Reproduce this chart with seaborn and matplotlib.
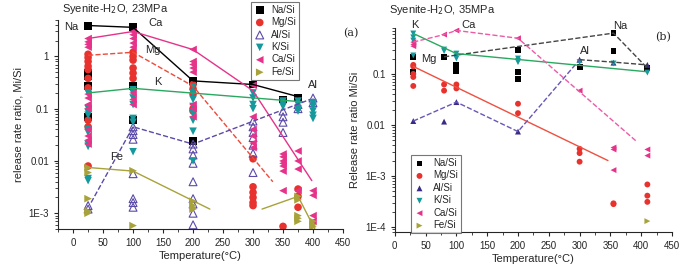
import matplotlib
matplotlib.use('Agg')
import matplotlib.pyplot as plt
import matplotlib.ticker as mticker
import numpy as np
import seaborn as sns
import pandas as pd

sns.set_style('ticks')
plt.rcParams['font.family'] = ['Liberation Sans', 'DejaVu Sans']

# ---------------- panel (a) : 23 MPa ----------------
na_a_t = [25, 25, 25, 25, 25, 100, 100, 100, 200, 200, 300, 350, 375]
na_a_v = [3.8, 0.49, 0.42, 0.27, 0.069, 3.7, 0.27, 0.06, 0.34, 0.024, 0.29, 0.15, 0.165]

mg_a_t = [25]*10 + [100]*6 + [200]*5 + [300]*6 + [350] + [375]*3
mg_a_v = [1.1, 0.95, 0.8, 0.65, 0.56, 0.38, 0.25, 0.06, 0.045, 0.008,
          1.2, 1.0, 0.85, 0.6, 0.48, 0.38,
          0.29, 0.24, 0.19, 0.1, 0.09,
          0.011, 0.0032, 0.0025, 0.002, 0.0016, 0.0014,
          0.00056,
          0.0029, 0.0021, 0.0013]

al_a_t = [25]*2 + [100]*8 + [200]*9 + [300]*7 + [350]*4 + [375]*2 + [400]*2
al_a_v = [0.0014, 0.0012,
          0.045, 0.038, 0.032, 0.026, 0.0057, 0.0019, 0.0016, 0.0013,
          0.021, 0.017, 0.013, 0.009, 0.004, 0.0019, 0.0015, 0.001, 0.0006,
          0.058, 0.045, 0.035, 0.028, 0.02, 0.014, 0.006,
          0.09, 0.07, 0.055, 0.035,
          0.12, 0.1,
          0.16, 0.13]

k_a_t = [25]*10 + [100]*7 + [200]*8 + [300]*4 + [350]*3 + [375]*4 + [400]*5
k_a_v = [0.2, 0.1, 0.085, 0.075, 0.04, 0.035, 0.021, 0.019, 0.0046, 0.0042,
         0.23, 0.2, 0.16, 0.12, 0.065, 0.055, 0.015,
         0.26, 0.2, 0.15, 0.11, 0.08, 0.06, 0.037, 0.01,
         0.2, 0.16, 0.12, 0.1,
         0.14, 0.12, 0.11,
         0.14, 0.12, 0.1, 0.09,
         0.13, 0.11, 0.09, 0.075, 0.065]

ca_a_t = [25]*12 + [100]*8 + [200]*8 + [300]*6 + [350]*7 + [375]*4 + [400]*4
ca_a_v = [2.2, 1.9, 1.7, 1.5, 0.19, 0.16, 0.12, 0.1, 0.04, 0.03, 0.025, 0.021,
          3.0, 2.6, 2.2, 1.8, 1.5, 0.2, 0.15, 0.12,
          1.36, 0.8, 0.7, 0.6, 0.5, 0.12, 0.1, 0.07,
          0.28, 0.07, 0.04, 0.03, 0.022, 0.018,
          0.0136, 0.012, 0.01, 0.009, 0.008, 0.0064, 0.0027,
          0.0155, 0.01, 0.007, 0.0027,
          0.0027, 0.0022, 0.0009, 0.0007]

fe_a_t = [25]*5 + [100]*2 + [200]*3 + [375]*5 + [400]*3
fe_a_v = [0.0075, 0.006, 0.0019, 0.0011, 0.001,
          0.0065, 0.00058,
          0.0017, 0.0014, 0.0012,
          0.0021, 0.0018, 0.0009, 0.0008, 0.0007,
          0.0007, 0.0006, 0.00055]

# trend lines (a)
na_a_line = ([25, 100, 200, 300, 375], [3.9, 3.6, 0.34, 0.29, 0.17])
ca_a_line = ([25, 100, 200, 300, 398], [2.2, 3.0, 1.35, 0.22, 0.0042])
mg_a_line = ([25, 100, 200, 333], [1.05, 1.2, 0.27, 0.004])
k_a_line = ([25, 100, 383], [0.2, 0.245, 0.135])
al_a_line = ([30, 100, 200, 395], [0.0016, 0.045, 0.021, 0.15])
fe_a_line1 = ([25, 100, 228], [0.0075, 0.0064, 0.0012])
fe_a_line2 = ([315, 375, 403], [0.0012, 0.0021, 0.0005])

# ---------------- panel (b) : 35 MPa ----------------
na_b_t = [30, 30, 80, 100, 100, 200, 200, 200, 300, 355, 355, 410]
na_b_v = [0.216, 0.11, 0.216, 0.15, 0.116, 0.29, 0.11, 0.079, 0.138, 0.63, 0.28, 0.13]

mg_b_t = [30, 30, 30, 30, 30, 80, 80, 100, 100, 200, 200, 300, 300, 300, 355, 355, 410, 410, 410]
mg_b_v = [0.15, 0.14, 0.1, 0.087, 0.058, 0.062, 0.047, 0.062, 0.052, 0.026, 0.017,
          0.0034, 0.0028, 0.0019, 0.00029, 0.00028, 0.00068, 0.00041, 0.00031]

al_b_t = [30, 80, 100, 200, 300, 355, 410]
al_b_v = [0.0119, 0.0116, 0.028, 0.0074, 0.19, 0.166, 0.15]

k_b_t = [30, 30, 30, 30, 80, 80, 100, 100, 100, 200, 200, 200, 300, 355, 410]
k_b_v = [0.62, 0.52, 0.45, 0.23, 0.30, 0.28, 0.25, 0.22, 0.2, 0.2, 0.18, 0.17, 0.17, 0.16, 0.106]

ca_b_t = [30, 30, 30, 80, 100, 200, 300, 355, 355, 355, 410, 410]
ca_b_v = [0.42, 0.38, 0.35, 0.59, 0.71, 0.5, 0.047, 0.0036, 0.0033, 0.0013, 0.0033, 0.0025]

fe_b_t = [410]
fe_b_v = [0.00013]

na_b_line = ([80, 355, 410], [0.216, 0.63, 0.13])
na_b_line2 = ([300, 355, 410], [0.19, 0.17, 0.15])
mg_b_line = ([30, 346], [0.14, 0.002])
al_b_line = ([30, 100, 200, 300], [0.0119, 0.028, 0.0074, 0.19])
k_b_line = ([30, 100, 410], [0.62, 0.25, 0.11])
ca_b_line = ([30, 80, 100, 200, 392], [0.42, 0.59, 0.71, 0.5, 0.0048])

names = ['Na/Si', 'Mg/Si', 'Al/Si', 'K/Si', 'Ca/Si', 'Fe/Si']
markers = ['s', 'o', '^', 'v', '<', '>']
colors = ['black', '#e8322e', '#5b4aa8', '#15999c', '#e6338a', '#a8a23a']

fig = plt.figure(figsize=(7, 2.65), dpi=100)
ax1 = fig.add_axes([0.083, 0.136, 0.407, 0.789])
ax2 = fig.add_axes([0.564, 0.125, 0.396, 0.77])


def line(ax, xy, color, ls):
    d = pd.DataFrame({'t': xy[0], 'v': xy[1]})
    sns.lineplot(data=d, x='t', y='v', ax=ax, color=color, lw=1, ls=ls,
                 sort=False, estimator=None)


# panel (a)
series_a = [(na_a_t, na_a_v), (mg_a_t, mg_a_v), (al_a_t, al_a_v),
            (k_a_t, k_a_v), (ca_a_t, ca_a_v), (fe_a_t, fe_a_v)]
line(ax1, na_a_line, 'black', '-')
line(ax1, ca_a_line, '#e6338a', '-')
line(ax1, mg_a_line, '#ee4a3a', '--')
line(ax1, k_a_line, '#2aa860', '-')
line(ax1, al_a_line, '#5b4aa8', '--')
line(ax1, fe_a_line1, '#a8a23a', '-')
line(ax1, fe_a_line2, '#a8a23a', '-')
for (t, v), n, m, c in zip(series_a, names, markers, colors):
    d = pd.DataFrame({'t': t, 'v': v})
    if n == 'Al/Si':
        sns.scatterplot(data=d, x='t', y='v', ax=ax1, marker=m, s=32,
                        facecolor='none', edgecolor=c, linewidth=0.8, label=n)
    else:
        sns.scatterplot(data=d, x='t', y='v', ax=ax1, marker=m, s=30,
                        color=c, edgecolor='none', label=n)

# panel (b)
series_b = [(na_b_t, na_b_v), (mg_b_t, mg_b_v), (al_b_t, al_b_v),
            (k_b_t, k_b_v), (ca_b_t, ca_b_v), (fe_b_t, fe_b_v)]
colors_b = ['black', '#e8322e', '#3a2a86', '#15999c', '#e6338a', '#a8a23a']
line(ax2, na_b_line, '#444444', '--')
line(ax2, na_b_line2, '#444444', '--')
line(ax2, mg_b_line, '#ee5040', '-')
line(ax2, al_b_line, '#6a55b8', '--')
line(ax2, k_b_line, '#2aa860', '-')
line(ax2, ca_b_line, '#ee5aa8', '--')
for (t, v), n, m, c in zip(series_b, names, markers, colors_b):
    d = pd.DataFrame({'t': t, 'v': v})
    sns.scatterplot(data=d, x='t', y='v', ax=ax2, marker=m, s=18,
                    color=c, edgecolor='none', label=n)


def fmt(val, pos):
    if val >= 0.01:
        return '%g' % val
    return '1E%d' % int(round(np.log10(val)))


for ax, xlim, ylim in [(ax1, (-25, 450), (5e-4, 5)), (ax2, (0, 450), (8e-5, 0.8))]:
    ax.set_yscale('log')
    ax.set_xlim(*xlim)
    ax.set_ylim(*ylim)
    ax.xaxis.set_major_locator(mticker.MultipleLocator(50))
    ax.xaxis.set_minor_locator(mticker.MultipleLocator(25))
    ax.yaxis.set_major_formatter(mticker.FuncFormatter(fmt))
    ax.yaxis.set_minor_formatter(mticker.NullFormatter())
    ax.tick_params(labelsize=7, length=3, width=0.8)
    ax.tick_params(which='minor', length=2, width=0.6)
    ax.set_xlabel('Temperature(°C)', fontsize=8, labelpad=2)
    for s in ['left', 'bottom']:
        ax.spines[s].set_linewidth(0.8)
sns.despine(fig=fig)

ax1.set_ylabel('release rate ratio, Mi/Si', fontsize=8)
ax2.set_ylabel('Release rate ratio Mi/Si', fontsize=8)
ax1.set_title('Syenite-H$_2$O, 23MPa', fontsize=8, x=0.2, y=1.0)
ax2.set_title('Syenite-H$_2$O, 35MPa', fontsize=8, x=0.17, y=1.03)
ax1.text(1.0, 0.92, '(a)', transform=ax1.transAxes, fontsize=8, family='serif')
ax2.text(0.94, 0.94, '(b)', transform=ax2.transAxes, fontsize=8, family='serif')

# series name annotations
for ax, labels in [(ax1, [('Na', 8, 3.7, 'right'), ('Ca', 125, 4.3, 'left'),
                          ('Mg', 120, 1.35, 'left'), ('K', 135, 0.32, 'left'),
                          ('Al', 392, 0.28, 'left'), ('Fe', 62, 0.012, 'left')]),
                   (ax2, [('K', 26, 0.9, 'left'), ('Ca', 108, 0.9, 'left'),
                          ('Mg', 42, 0.2, 'left'), ('Na', 355, 0.85, 'left'),
                          ('Al', 300, 0.28, 'left')])]:
    for txt, x, y, ha in labels:
        ax.text(x, y, txt, fontsize=8, ha=ha, va='center')

leg1 = ax1.legend(loc='upper left', bbox_to_anchor=(0.66, 1.11), fontsize=7,
                  frameon=True, fancybox=False, edgecolor='#555555',
                  labelspacing=0.25, handletextpad=0.6, borderpad=0.3,
                  handlelength=1.2)
leg1.get_frame().set_linewidth(0.8)
leg2 = ax2.legend(loc='upper left', bbox_to_anchor=(0.04, 0.4), fontsize=7,
                  frameon=True, fancybox=False, edgecolor='#555555',
                  labelspacing=0.25, handletextpad=0.8, borderpad=0.3,
                  handlelength=1.2)
leg2.get_frame().set_linewidth(0.8)

fig.savefig('out.png', dpi=100)
